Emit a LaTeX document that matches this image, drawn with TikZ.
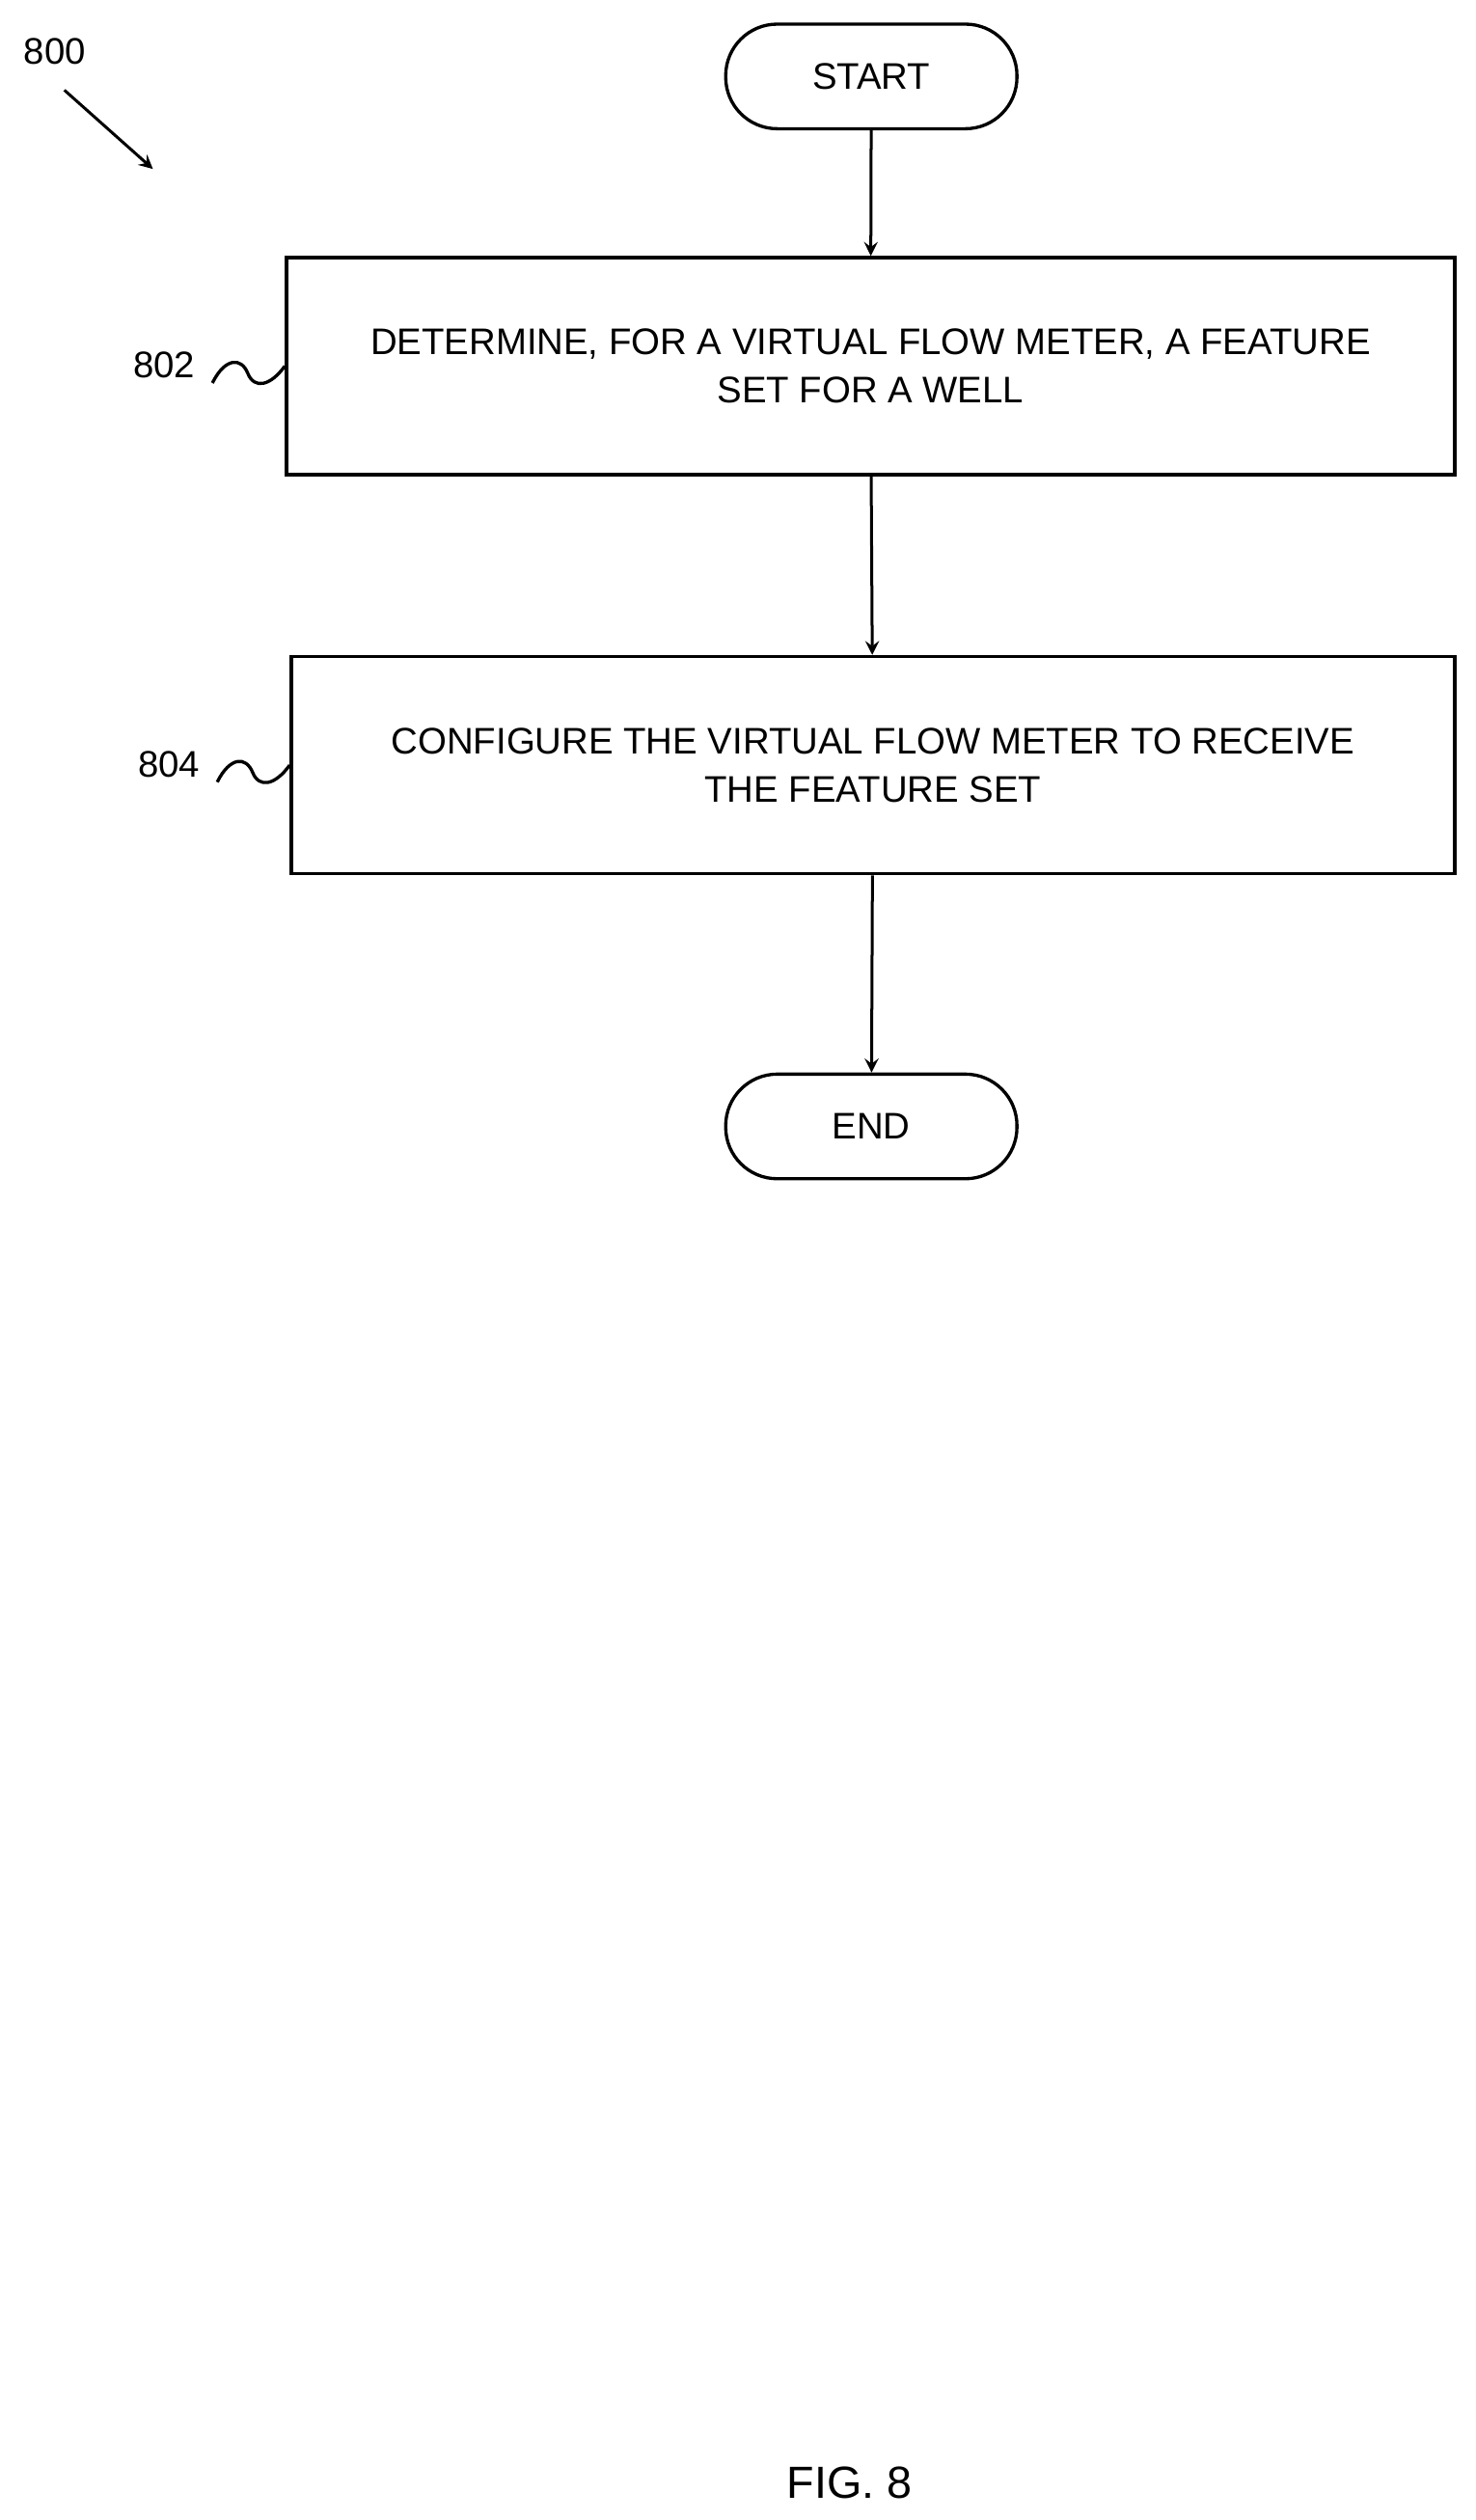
\documentclass[tikz,border=0pt]{standalone}
\usepackage{fontspec}
\setmainfont{Liberation Sans}
\begin{document}
\begin{tikzpicture}[x=0.5pt,y=-0.5pt,
  box/.style={draw,line width=1pt,rectangle,align=center,font=\fontsize{11.5}{15}\selectfont},
  term/.style={draw,line width=1pt,rounded corners=16pt,font=\fontsize{11.5}{14}\selectfont,minimum width=90.5pt,minimum height=32.5pt},
  arr/.style={->,>=stealth,line width=0.9pt},
  lbl/.style={font=\fontsize{11.5}{14}\selectfont}]
\useasboundingbox (0,0) rectangle (917,1566);
\node[term] (start) at (541.5,47.5) {START};
\node[box,minimum width=363pt,minimum height=67.5pt] (b1) at (541,227.5) {DETERMINE, FOR A VIRTUAL FLOW METER, A FEATURE\\SET FOR A WELL};
\node[box,minimum width=361.5pt,minimum height=67.5pt] (b2) at (542.5,475.5) {CONFIGURE THE VIRTUAL FLOW METER TO RECEIVE\\THE FEATURE SET};
\node[term] (end) at (541.5,700) {END};
\draw[arr] (start) -- (b1);
\draw[arr] (b1) -- (b2);
\draw[arr] (b2) -- (end);
\node[lbl] (l800) at (34,32) {800};
\coordinate (a0) at (40,56);
\coordinate (a1) at (95,105);
\draw[arr] (a0) -- (a1);
\node[lbl] (l802) at (102,227) {802};
\draw[line width=1pt] (132,238) .. controls (140,222) and (150,222) .. (154,232) .. controls (158,242) and (168,240) .. (b1.west);
\node[lbl] (l804) at (105,475) {804};
\draw[line width=1pt] (135,486) .. controls (143,470) and (153,470) .. (157,480) .. controls (161,490) and (171,488) .. (b2.west);
\node[font=\fontsize{14}{16}\selectfont] (fig) at (528,1543) {FIG. 8};
\end{tikzpicture}
\end{document}
